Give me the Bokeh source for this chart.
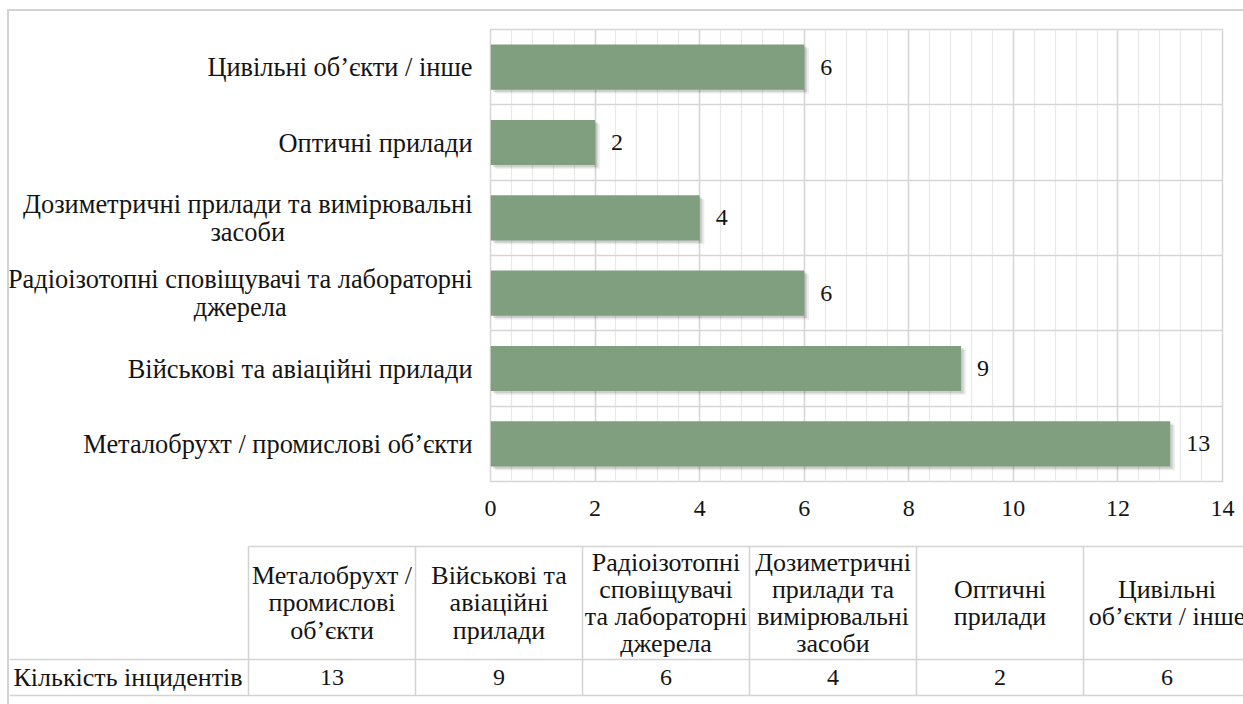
from bokeh.plotting import figure
from bokeh.layouts import column, row
from bokeh.models import (FactorRange, Range1d, SingleIntervalTicker, FixedTicker,
                          ColumnDataSource, Div, Spacer)
from bokeh.transform import dodge
from bokeh.core.properties import value
from bokeh.embed import file_html
from bokeh.resources import INLINE

# ---------------- data ----------------
categories = [
    "Металобрухт / промислові об’єкти",
    "Військові та авіаційні прилади",
    "Радіоізотопні сповіщувачі та лабораторні джерела",
    "Дозиметричні прилади та вимірювальні засоби",
    "Оптичні прилади",
    "Цивільні об’єкти / інше",
]
axis_labels = [
    "Металобрухт / промислові об’єкти",
    "Військові та авіаційні прилади",
    "Радіоізотопні сповіщувачі та лабораторні\nджерела",
    "Дозиметричні прилади та вимірювальні\nзасоби",
    "Оптичні прилади",
    "Цивільні об’єкти / інше",
]
table_headers = [
    "Металобрухт /\nпромислові\nоб’єкти",
    "Військові та\nавіаційні\nприлади",
    "Радіоізотопні\nсповіщувачі\nта лабораторні\nджерела",
    "Дозиметричні\nприлади та\nвимірювальні\nзасоби",
    "Оптичні\nприлади",
    "Цивільні\nоб’єкти / інше",
]
incidents = [13, 9, 6, 4, 2, 6]
row_title = "Кількість інцидентів"
x_max = 14
x_tick_step = 2

# ---------------- style ----------------
FAM = "serif"
FONT = value(FAM)
FS_LAB = value("26.4px")   # category labels
FS = value("26px")         # table text
FN = value("24px")         # numbers
TXT = "#141414"
GRID = "#d6d6d6"
MINOR = "#e9e9e9"
BAR = "#7f9f7e"
LINE = "#d3d3d3"

W, H = 1243, 704
OX, OY = 7, 9            # outer frame line position
LW = 2                   # outer frame line width
X0 = OX + LW             # content left
Y0 = OY + LW             # content top
H_TAB = 174
H_TOP = H - Y0 - H_TAB
LAB_W = 478 - X0

yr = FactorRange(factors=categories)
src = ColumnDataSource(dict(
    cat=categories, val=incidents, lbl=[str(v) for v in incidents],
    axis_lbl=axis_labels,
    sh1=[v + 0.05 for v in incidents], sh2=[v + 0.09 for v in incidents],
))

# ---------------- category label panel ----------------
pl = figure(width=LAB_W, height=H_TOP, y_range=yr, x_range=Range1d(0, LAB_W),
            x_axis_location=None, y_axis_location=None,
            min_border_left=0, min_border_right=0, min_border_top=29 - Y0, min_border_bottom=49,
            output_backend="svg", toolbar_location=None)
pl.grid.visible = False
pl.outline_line_color = None
pl.text(x=LAB_W - 6, y="cat", text="axis_lbl", source=src,
        anchor=value("center_right"), text_align=value("center"),
        text_baseline=value("middle"), text_font=FONT, text_font_size=FS_LAB,
        text_color=TXT, text_line_height=0.93)

# ---------------- bar chart ----------------
p = figure(width=W - X0 - LAB_W, height=H_TOP, y_range=yr, x_range=Range1d(0, x_max),
           min_border_left=12, min_border_right=21, min_border_top=29 - Y0, min_border_bottom=49,
           output_backend="svg", toolbar_location=None)
p.yaxis.visible = False
p.xaxis.ticker = SingleIntervalTicker(interval=x_tick_step, num_minor_ticks=5)
p.xaxis.axis_line_color = None
p.xaxis.major_tick_line_color = None
p.xaxis.minor_tick_line_color = None
p.xaxis.major_label_text_font = FAM
p.xaxis.major_label_text_font_size = "24px"
p.xaxis.major_label_text_color = TXT
p.xaxis.major_label_standoff = 13
p.xgrid.grid_line_color = GRID
p.xgrid.grid_line_width = 1.5
p.xgrid.minor_grid_line_color = MINOR
p.xgrid.minor_grid_line_width = 1.2
p.ygrid.ticker = FixedTicker(ticks=list(range(len(categories) + 1)))
p.ygrid.grid_line_color = GRID
p.ygrid.grid_line_width = 1.5
p.outline_line_color = GRID
p.outline_line_width = 1.5

# soft shadow
p.hbar(y=dodge("cat", -0.05, range=yr), left=0.09, right="sh2", height=0.6,
       source=src, fill_color="#000000", fill_alpha=0.08, line_color=None)
p.hbar(y=dodge("cat", -0.03, range=yr), left=0.05, right="sh1", height=0.6,
       source=src, fill_color="#000000", fill_alpha=0.12, line_color=None)
p.hbar(y="cat", left=0, right="val", height=0.6, source=src,
       fill_color=BAR, line_color=None)
p.text(x="val", y="cat", text="lbl", source=src, x_offset=16,
       text_align=value("left"), text_baseline=value("middle"),
       text_font=FONT, text_font_size=FN, text_color=TXT)

# ---------------- data table ----------------
TL, CW = 248 - X0, 167          # first data column left edge (px) and column width (px)
HEAD_TOP, SEP, BOT = 16, 129, 165
n = len(categories)
LEFT = -TL / CW
pt = figure(width=W - X0, height=H_TAB, x_range=Range1d(LEFT, (W - X0 - TL) / CW),
            y_range=Range1d(H_TAB, 0), x_axis_location=None, y_axis_location=None,
            min_border=0, output_backend="svg", toolbar_location=None)
pt.grid.visible = False
pt.outline_line_color = None

cols = list(range(n + 1))
pt.segment(x0=[0, LEFT, LEFT], x1=[n, n, n], y0=[HEAD_TOP, SEP, BOT], y1=[HEAD_TOP, SEP, BOT],
           line_color=LINE, line_width=1.5)
pt.segment(x0=cols, x1=cols, y0=[HEAD_TOP] * len(cols), y1=[BOT] * len(cols),
           line_color=LINE, line_width=1.5)

centers = [i + 0.5 for i in range(n)]
tsrc = ColumnDataSource(dict(x=centers, head=table_headers, val=[str(v) for v in incidents]))
pt.text(x="x", y=(HEAD_TOP + SEP) / 2, text="head", source=tsrc,
        text_align=value("center"), text_baseline=value("middle"),
        text_font=FONT, text_font_size=FS, text_color=TXT,
        text_line_height=0.94)
pt.text(x="x", y=(SEP + BOT) / 2, text="val", source=tsrc,
        text_align=value("center"), text_baseline=value("middle"),
        text_font=FONT, text_font_size=FN, text_color=TXT)
pt.text(x=[LEFT + 4 / CW], y=[(SEP + BOT) / 2], text=[row_title],
        text_align=value("left"), text_baseline=value("middle"),
        text_font=FONT, text_font_size=FS, text_color=TXT)

# ---------------- outer frame lines + assembly ----------------
Z = (0, 0, 0, 0)
vline = Div(text="", width=LW, height=H - OY, margin=Z, styles={"background-color": LINE})
hline = Div(text="", width=W - X0, height=LW, margin=Z, styles={"background-color": LINE})
main = column(hline, row(pl, p, spacing=0), pt, spacing=0, margin=Z)
body = row(Spacer(width=OX, height=H - OY, margin=Z), vline, main, spacing=0, margin=Z)
layout = column(Spacer(width=W, height=OY, margin=Z), body, spacing=0, margin=Z)
open("out.html", "w").write(file_html(layout, INLINE))
